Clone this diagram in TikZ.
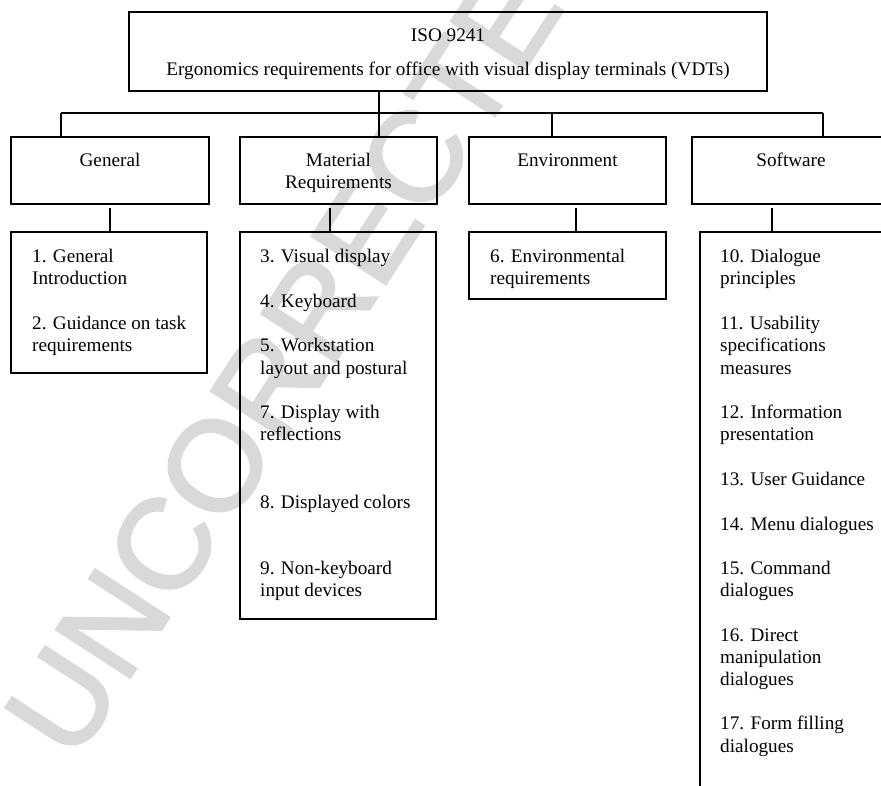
\documentclass[tikz,border=0pt]{standalone}
\usepackage{fontspec}
\setmainfont{Liberation Serif}
\newfontfamily\wmfont[FakeBold=2]{Liberation Sans}
\begin{document}
\begin{tikzpicture}[x=1pt,y=-1pt,
  box/.style={draw, line width=1.8pt, inner sep=0pt},
  link/.style={line width=1.4pt},
  lbl/.style={anchor=base west, inner sep=0pt, font=\fontsize{19.2}{22}\selectfont},
  ttl/.style={anchor=base, inner sep=0pt, font=\fontsize{19.2}{22}\selectfont}]
\useasboundingbox (0,0) rectangle (881,785);
\clip (0,0) rectangle (881,785);

% faint diagonal stamp behind the chart
\node[anchor=base west, inner sep=0pt, rotate=57, text=black!15,
      font=\wmfont\fontsize{128}{128}\selectfont] (stamp) at (74,764) {UNCORRECTED};

% boxes
\node[box, minimum width=638pt, minimum height=79pt] (top) at (448,51.5) {};
\node[box, minimum width=198pt, minimum height=67pt] (gen) at (110,170.5) {};
\node[box, minimum width=197pt, minimum height=67pt] (mat) at (338.5,170.5) {};
\node[box, minimum width=197pt, minimum height=67pt] (env) at (567.5,170.5) {};
\node[box, minimum width=198pt, minimum height=67pt] (sw) at (791,170.5) {};
\node[box, minimum width=196pt, minimum height=141pt] (cgen) at (109,302.5) {};
\node[box, minimum width=196pt, minimum height=387pt] (cmat) at (338,425.5) {};
\node[box, minimum width=197pt, minimum height=67pt] (cenv) at (567.5,265.5) {};
\node[box, minimum width=190pt, minimum height=588pt] (csw) at (795,526) {};

% connectors
\coordinate (trunk) at (379,113);
\coordinate (busL) at (61,113);
\coordinate (busE) at (552,113);
\coordinate (busR) at (823,113);
\draw[link] (top.south -| trunk) -- (mat.north -| trunk);
\draw[link] (busL) -- (busR);
\draw[link] (busL) -- (busL |- gen.north);
\draw[link] (busE) -- (busE |- env.north);
\draw[link] (busR) -- (busR |- sw.north);
\coordinate (dgen) at (110,208);
\coordinate (dmat) at (330,208);
\coordinate (denv) at (576,208);
\coordinate (dsw) at (772,208);
\draw[link] (dgen) -- (dgen |- cgen.north);
\draw[link] (dmat) -- (dmat |- cmat.north);
\draw[link] (denv) -- (denv |- cenv.north);
\draw[link] (dsw) -- (dsw |- csw.north);

% titles
\node[ttl] (iso) at (448,41.7) {ISO 9241};
\node[ttl] (ergo) at (448,75.5) {Ergonomics requirements for office with visual display terminals (VDTs)};
\node[ttl] (tgen) at (110,166.5) {General};
\node[ttl] (tmat1) at (338.5,166.5) {Material};
\node[ttl] (tmat2) at (338.5,188.5) {Requirements};
\node[ttl] (tenv) at (567.5,166.5) {Environment};
\node[ttl] (tsw) at (791,166.5) {Software};

% General parts
\node[lbl] (g1a) at (32,262) {1. General};
\node[lbl] (g1b) at (32,284) {Introduction};
\node[lbl] (g2a) at (32,329) {2. Guidance on task};
\node[lbl] (g2b) at (32,351) {requirements};

% Material requirements parts
\node[lbl] (m3) at (260,262) {3. Visual display};
\node[lbl] (m4) at (260,307) {4. Keyboard};
\node[lbl] (m5a) at (260,351) {5. Workstation};
\node[lbl] (m5b) at (260,374) {layout and postural};
\node[lbl] (m7a) at (260,418) {7. Display with};
\node[lbl] (m7b) at (260,440) {reflections};
\node[lbl] (m8) at (260,508) {8. Displayed colors};
\node[lbl] (m9a) at (260,574) {9. Non-keyboard};
\node[lbl] (m9b) at (260,596) {input devices};

% Environment parts
\node[lbl] (e6a) at (490,262) {6. Environmental};
\node[lbl] (e6b) at (490,284) {requirements};

% Software parts
\node[lbl] (s10a) at (720,262) {10. Dialogue};
\node[lbl] (s10b) at (720,284) {principles};
\node[lbl] (s11a) at (720,329) {11. Usability};
\node[lbl] (s11b) at (720,351) {specifications};
\node[lbl] (s11c) at (720,374) {measures};
\node[lbl] (s12a) at (720,418) {12. Information};
\node[lbl] (s12b) at (720,440) {presentation};
\node[lbl] (s13) at (720,485) {13. User Guidance};
\node[lbl] (s14) at (720,530) {14. Menu dialogues};
\node[lbl] (s15a) at (720,574) {15. Command};
\node[lbl] (s15b) at (720,596) {dialogues};
\node[lbl] (s16a) at (720,641) {16. Direct};
\node[lbl] (s16b) at (720,663) {manipulation};
\node[lbl] (s16c) at (720,685) {dialogues};
\node[lbl] (s17a) at (720,729) {17. Form filling};
\node[lbl] (s17b) at (720,752) {dialogues};
\end{tikzpicture}
\end{document}
